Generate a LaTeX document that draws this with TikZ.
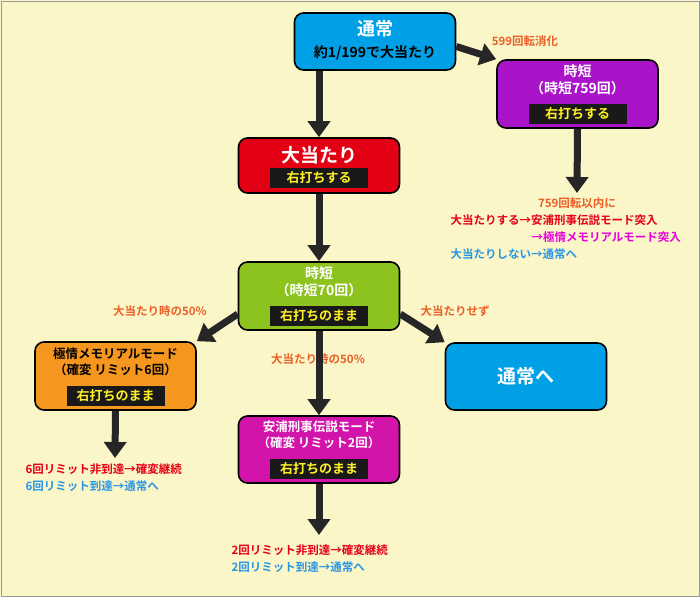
\documentclass[tikz,border=0pt]{standalone}
\usepackage{fontspec}
\setmainfont{Noto Sans CJK JP}[BoldFont={Noto Sans CJK JP Bold}]
\usetikzlibrary{arrows.meta, positioning}
\definecolor{bgcream}{RGB}{250,246,200}
\definecolor{tsublue}{RGB}{0,160,230}
\definecolor{jipurple}{RGB}{170,20,200}
\definecolor{ohred}{RGB}{228,0,20}
\definecolor{jigreen}{RGB}{140,195,30}
\definecolor{kyorange}{RGB}{245,150,30}
\definecolor{yamagenta}{RGB}{210,20,170}
\definecolor{txorange}{RGB}{235,95,40}
\definecolor{txred}{RGB}{230,0,20}
\definecolor{txblue}{RGB}{40,150,230}
\definecolor{txpink}{RGB}{230,0,220}
\definecolor{labyellow}{RGB}{255,240,40}
\tikzset{
  box/.style={draw=black, line width=1.6pt, rounded corners=9pt, minimum width=161pt},
  lab/.style={fill=black!90, text=labyellow, font=\bfseries\fontsize{13}{13}\selectfont, inner sep=2pt, minimum width=98pt, minimum height=20pt},
  flow/.style={-{Triangle[length=16pt, width=22pt]}, line width=7pt, draw=black!85},
  note/.style={font=\bfseries\fontsize{11.5}{14}\selectfont, align=left}
}
\begin{document}
\begin{tikzpicture}[x=1pt, y=-1pt]
  \useasboundingbox (0,0) rectangle (700,597);
  \fill[bgcream] (0,0) rectangle (700,597);
  \draw[black!40, line width=1pt] (1,1) rectangle (699,596);

  % boxes
  \node[box, fill=tsublue, minimum height=57pt] (tsujo) at (375,41.5) {};
  \node[text=white, font=\bfseries\fontsize{18}{18}\selectfont] (tsujoT) at (375,29) {通常};
  \node[font=\bfseries\fontsize{14}{14}\selectfont] (tsujoS) at (375,53) {約1/199で大当たり};

  \node[box, fill=jipurple, minimum height=68pt] (jitan759) at (577.5,94) {};
  \node[text=white, font=\bfseries\fontsize{14}{17}\selectfont, align=center] (jitan759T) at (577.5,80) {時短\\（時短759回）};
  \node[lab] (jitan759L) at (577.5,114) {右打ちする};

  \node[box, fill=ohred, minimum height=55pt] (ohatari) at (319,165.5) {};
  \node[text=white, font=\bfseries\fontsize{19}{19}\selectfont] (ohatariT) at (319,155) {大当たり};
  \node[lab] (ohatariL) at (319,178) {右打ちする};

  \node[box, fill=jigreen, minimum height=68pt] (jitan70) at (319,296) {};
  \node[text=white, font=\bfseries\fontsize{14}{17}\selectfont, align=center] (jitan70T) at (319,282) {時短\\（時短70回）};
  \node[lab] (jitan70L) at (319,316) {右打ちのまま};

  \node[box, fill=kyorange, minimum height=68pt] (gokujo) at (115.5,376) {};
  \node[font=\bfseries\fontsize{12.5}{16}\selectfont, align=center] (gokujoT) at (115.5,362) {極情メモリアルモード\\（確変 リミット6回）};
  \node[lab] (gokujoL) at (115.5,396) {右打ちのまま};

  \node[box, fill=tsublue, minimum height=67pt] (modori) at (526,376.5) {};
  \node[text=white, font=\bfseries\fontsize{19}{19}\selectfont] (modoriT) at (526,376.5) {通常へ};

  \node[box, fill=yamagenta, minimum height=67pt] (yasuura) at (319,449.5) {};
  \node[text=white, font=\bfseries\fontsize{12.5}{16}\selectfont, align=center] (yasuuraT) at (319,435) {安浦刑事伝説モード\\（確変 リミット2回）};
  \node[lab] (yasuuraL) at (319,469) {右打ちのまま};

  % notes
  \node[note, text=txorange] (n599) at (525,41) {599回転消化};
  \node[note, text=txorange] (n50a) at (160,311) {大当たり時の50\%};
  \node[note, text=txorange] (nsezu) at (455,311) {大当たりせず};
  \node[note, text=txorange] (n50b) at (318,359) {大当たり時の50\%};
  \node[note, text=txorange] (n759) at (577,203) {759回転以内に};
  \node[note, text=txred, anchor=west] (n759a) at (447,220) {大当たりする→安浦刑事伝説モード突入};
  \node[note, text=txpink, anchor=west] (n759b) at (528,237) {→極情メモリアルモード突入};
  \node[note, text=txblue, anchor=west] (n759c) at (447,254) {大当たりしない→通常へ};
  \node[note, text=txred, anchor=west] (n6a) at (22,469) {6回リミット非到達→確変継続};
  \node[note, text=txblue, anchor=west] (n6b) at (22,486) {6回リミット到達→通常へ};
  \node[note, text=txred, anchor=west] (n2a) at (228,550) {2回リミット非到達→確変継続};
  \node[note, text=txblue, anchor=west] (n2b) at (228,567) {2回リミット到達→通常へ};

  % arrows
  \coordinate (endA) at (577,193);
  \coordinate (endB) at (115,458);
  \coordinate (endC) at (319,535);
  \draw[flow] (tsujo.south -| ohatari) -- (ohatari.north);
  \draw[flow] (tsujo.east) ++(0,5) -- (jitan759.north west);
  \draw[flow] (jitan759.south) -- (endA);
  \draw[flow] (ohatari.south) -- (jitan70.north);
  \draw[flow] (jitan70.west) ++(0,18) -- (gokujo.north east);
  \draw[flow] (jitan70.east) ++(0,18) -- (modori.north west);
  \draw[flow] (jitan70.south) -- (yasuura.north);
  \draw[flow] (gokujo.south) -- (endB);
  \draw[flow] (yasuura.south) -- (endC);
\end{tikzpicture}
\end{document}
